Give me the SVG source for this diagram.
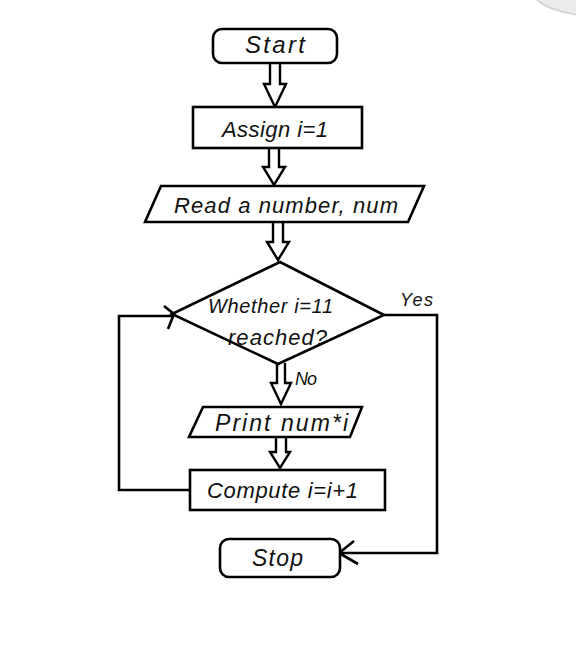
<svg xmlns="http://www.w3.org/2000/svg" width="576" height="658" viewBox="0 0 576 658">
<style>
.box{fill:#fff;stroke:#000;stroke-width:2.6;stroke-linejoin:miter}
.lbl{font-family:"Liberation Sans",Arial,sans-serif;font-style:italic;font-size:22px;fill:#111}
.sm{font-family:"Liberation Sans",Arial,sans-serif;font-style:italic;font-size:18px;fill:#111}
.ln{fill:none;stroke:#000;stroke-width:2.6}
.ha{fill:#fff;stroke:#000;stroke-width:2.4;stroke-linejoin:miter}
</style>
<rect width="576" height="658" fill="#fff"/>
<ellipse cx="600" cy="-8" rx="66" ry="24" fill="#ececec" stroke="#d6d6d6" stroke-width="2"/>
<g id="connectors">
  <path class="ha" d="M270 63 V84 H264 L275 107 L286 84 H280 V63"/>
  <path class="ha" d="M269 148 V167 H263 L274 185 L285 167 H279 V148"/>
  <path class="ha" d="M273 222 V242 H267 L278 260 L289 242 H283 V222"/>
  <path class="ha" d="M277 363 V383 H271 L281 404 L291 383 H285 V363"/>
  <path class="ha" d="M276 437 V452 H270 L280 468 L290 452 H286 V437"/>
  <path class="ln" d="M384 315 H437 V553 H339"/>
  <path class="ln" d="M354 541 L339 553 L358 564"/>
  <path class="ln" d="M190 490 H119 V316 H172"/>
  <path class="ln" d="M164 306 L174 314 L168 329"/>
  <text class="sm" x="400" y="306" textLength="33">Yes</text>
  <text class="sm" x="295" y="385" textLength="22">No</text>
</g>
<g id="start">
  <rect class="box" x="213" y="29" width="124" height="34" rx="9"/>
  <text class="lbl" x="245" y="53" textLength="60" style="font-size:24px">Start</text>
</g>
<g id="assign">
  <rect class="box" x="193" y="107" width="169" height="41"/>
  <text class="lbl" x="222" y="137" textLength="106">Assign i=1</text>
</g>
<g id="read">
  <polygon class="box" points="161,186 424,186 408,222 145,222"/>
  <text class="lbl" x="174" y="213" textLength="224">Read a number, num</text>
</g>
<g id="decision">
  <polygon class="box" points="280,262 384,315 278,364 172,314"/>
  <text class="lbl" x="208" y="313" textLength="125" style="font-size:20px">Whether i=11</text>
  <text class="lbl" x="228" y="345" textLength="99">reached?</text>
</g>
<g id="print">
  <polygon class="box" points="203,407 362,407 350,437 189,437"/>
  <text class="lbl" x="215" y="431" textLength="133" style="font-size:23px">Print num*i</text>
</g>
<g id="compute">
  <rect class="box" x="190" y="470" width="195" height="40"/>
  <text class="lbl" x="207" y="498" textLength="151">Compute i=i+1</text>
</g>
<g id="stop">
  <rect class="box" x="220" y="539" width="120" height="38" rx="9"/>
  <text class="lbl" x="252" y="566" textLength="51" style="font-size:23px">Stop</text>
</g>
</svg>
